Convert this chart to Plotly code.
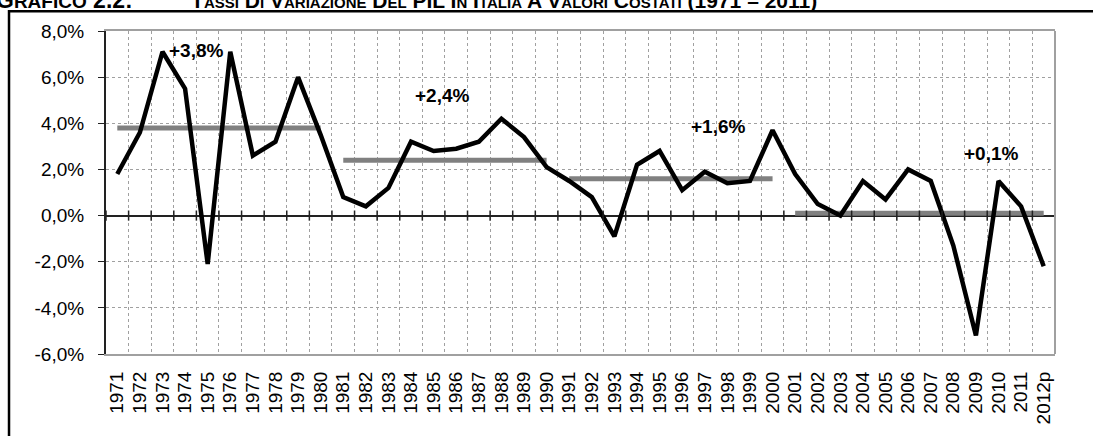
import plotly.graph_objects as go

# anni (etichette dell'asse x)
years = [str(y) for y in range(1971, 2012)] + ['2012p']

# tasso di variazione del PIL, %
growth = [1.8, 3.6, 7.1, 5.5, -2.1, 7.1, 2.6, 3.2, 6.0, 3.5,
          0.8, 0.4, 1.2, 3.2, 2.8, 2.9, 3.2, 4.2, 3.4, 2.1,
          1.5, 0.8, -0.9, 2.2, 2.8, 1.1, 1.9, 1.4, 1.5, 3.7,
          1.8, 0.5, 0.0, 1.5, 0.7, 2.0, 1.5, -1.3, -5.2, 1.5, 0.4, -2.2]

# medie per periodo
period_start = ['1971', '1981', '1991', '2001']
period_end = ['1980', '1990', '2000', '2012p']
period_avg = [3.8, 2.4, 1.6, 0.1]
# posizione delle etichette delle medie (indice categoria, valore y)
label_pos = [(3.5, 7.15), (14.4, 5.2), (26.6, 3.85), (38.7, 2.7)]

# asse y
y_ticks = [-6, -4, -2, 0, 2, 4, 6, 8]

title_head = 'GRAFICO 2.2:'
title_body = 'TASSI DI VARIAZIONE DEL PIL IN ITALIA A VALORI COSTATI (1971 – 2011)'

FONT = 'Liberation Sans, Arial, sans-serif'


def small_caps(text, big, small):
    out = []
    for w in text.split(' '):
        if w.isalpha() and len(w) > 1 and w != 'PIL':
            out.append(f"{w[0]}<span style='font-size:{small}px'>{w[1:]}</span>")
        else:
            out.append(w)
    return f"<span style='font-size:{big}px'>" + ' '.join(out) + "</span>"


fig = go.Figure()

for s, e, v in zip(period_start, period_end, period_avg):
    i0, i1 = years.index(s), years.index(e)
    fig.add_trace(go.Scatter(x=years[i0:i1 + 1], y=[v] * (i1 - i0 + 1), mode='lines',
                             line=dict(color='#808080', width=5), hoverinfo='skip'))

fig.add_trace(go.Scatter(x=years, y=growth, mode='lines',
                         line=dict(color='black', width=4.5)))

# etichette medie
for (px, py), v in zip(label_pos, period_avg):
    txt = f"+{v:.1f}%".replace('.', ',')
    fig.add_annotation(x=px, y=py, xref='x', yref='y', text=f"<b>{txt}</b>",
                       showarrow=False, font=dict(size=19, color='black', family=FONT))

# tacche sulla linea dello zero
shapes = []
for k in range(len(years) + 1):
    shapes.append(dict(type='line', xref='x', yref='y', x0=k - 0.5, x1=k - 0.5,
                       y0=-0.22, y1=0.22, line=dict(color='#222', width=1.5)))
# bordo destro dell'area del grafico
shapes.append(dict(type='line', xref='paper', yref='paper', x0=1, x1=1, y0=0, y1=1,
                   line=dict(color='#a0a0a0', width=2)))
# cornice esterna
shapes.append(dict(type='rect', xref='paper', yref='paper', x0=-0.1022, x1=1.2,
                   y0=-0.4, y1=1.061, line=dict(color='black', width=2.5)))

title_txt = (small_caps(title_head, 23, 19) + '\u00a0' * 10
             + small_caps(title_body, 21, 15))
fig.add_annotation(xref='paper', yref='paper', x=-0.118, y=1.095, xanchor='left',
                   yanchor='middle', showarrow=False,
                   text=f"<b>{title_txt}</b>",
                   font=dict(size=21, color='black', family=FONT))

fig.update_layout(
    width=1093, height=436,
    margin=dict(l=106, r=38, t=31, b=77),
    paper_bgcolor='white', plot_bgcolor='white',
    showlegend=False,
    separators=',.',
    shapes=shapes,
    font=dict(family=FONT, color='black', size=19),
)

fig.update_xaxes(type='category', tickson='boundaries', tickangle=-90,
                 tickmode='array', tickvals=years, ticktext=years,
                 showgrid=True, gridcolor='#a0a0a0', griddash='dot', gridwidth=1,
                 showline=True, linecolor='#a0a0a0', linewidth=2, mirror=True,
                 ticks='', ticklabelstandoff=8, tickfont=dict(size=19),
                 range=[-0.5, len(years) - 0.5])
fig.update_yaxes(range=[-6, 8], tickmode='array', tickvals=y_ticks,
                 ticktext=[f"{v:.1f}%".replace('.', ',') for v in y_ticks],
                 showgrid=True, gridcolor='#a0a0a0', griddash='dot', gridwidth=1,
                 zeroline=True, zerolinecolor='#222', zerolinewidth=2,
                 showline=True, linecolor='#222', linewidth=2,
                 ticks='outside', ticklen=6, tickcolor='#222', ticklabelstandoff=10,
                 tickfont=dict(size=19))

fig.write_html("out.html", config={'displayModeBar': False},
               post_script="document.body.style.margin='0';")
